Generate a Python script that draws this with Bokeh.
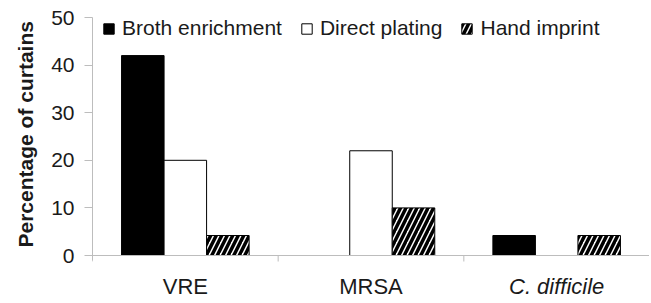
from bokeh.plotting import figure
from bokeh.models import ColumnDataSource, FixedTicker, Range1d, Span, Title
from bokeh.core.properties import value
from bokeh.embed import file_html
from bokeh.resources import INLINE

categories = ["VRE", "MRSA", "C. difficile"]
broth_enrichment = [42, 0, 4.2]
direct_plating = [20, 22, 0]
hand_imprint = [4.2, 10, 4.2]
series_names = ["Broth enrichment", "Direct plating", "Hand imprint"]
y_ticks = [0, 10, 20, 30, 40, 50]
y_title = "Percentage of curtains"

FONT = "Liberation Sans"
TEXT_COLOR = "#1a1a1a"
AXIS_GRAY = "#bdbdbd"
BAR_W = 0.229
italic_cats = {"C. difficile"}

# layout: y=50 at 17px, y=0 at 255px from top; canvas 303 tall
PX_PER_UNIT = (255 - 17) / 50.0
Y_BOTTOM = -(303 - 255) / PX_PER_UNIT

p = figure(width=649, height=303, output_backend="svg", toolbar_location=None,
           x_range=Range1d(0, 3), y_range=Range1d(Y_BOTTOM, 50),
           x_axis_location=None,
           min_border_left=91, min_border_top=17, min_border_bottom=0, min_border_right=0)
p.outline_line_color = None
p.xgrid.grid_line_color = None
p.ygrid.grid_line_color = None

series = [broth_enrichment, direct_plating, hand_imprint]
offsets = [-BAR_W, 0, BAR_W]
styles = [
    dict(fill_color="black", line_color="black"),
    dict(fill_color="white", line_color="black"),
    dict(fill_color="white", line_color="black", hatch_pattern="/", hatch_color="black",
         hatch_scale=11, hatch_weight=3.5),
]

# x axis baseline and category boundary ticks
p.add_layout(Span(location=0, dimension="width", line_color=AXIS_GRAY, line_width=1))
bounds = list(range(len(categories) + 1))
p.segment(x0=bounds, y0=[0] * len(bounds), x1=bounds,
          y1=[-6 / PX_PER_UNIT] * len(bounds), line_color=AXIS_GRAY, line_width=1)

for name, vals, off, st in zip(series_names, series, offsets, styles):
    xs = [i + 0.5 + off for i, v in enumerate(vals) if v > 0]
    tops = [v for v in vals if v > 0]
    src = ColumnDataSource(dict(x=xs, top=tops))
    p.vbar(x="x", top="top", bottom=0, width=BAR_W, source=src, line_width=1,
           legend_label=name, **st)

# category labels
lab_src = ColumnDataSource(dict(
    x=[i + 0.5 for i in range(len(categories))],
    y=[-31 / PX_PER_UNIT] * len(categories),
    text=categories,
    style=["italic" if c in italic_cats else "normal" for c in categories],
))
p.text(x="x", y="y", text="text", source=lab_src, text_align="center",
       text_baseline="middle", text_font=value(FONT), text_font_size=value("22px"),
       text_font_style="style", text_color=TEXT_COLOR)

# y axis
p.yaxis.ticker = FixedTicker(ticks=y_ticks)
p.yaxis.bounds = (-5 / PX_PER_UNIT, 50)
p.yaxis.axis_line_color = AXIS_GRAY
p.yaxis.major_tick_line_color = AXIS_GRAY
p.yaxis.major_tick_in = 0
p.yaxis.major_tick_out = 8
p.yaxis.minor_tick_line_color = None
p.yaxis.major_label_standoff = 10
p.yaxis.major_label_text_font = FONT
p.yaxis.major_label_text_font_size = "21px"
p.yaxis.major_label_text_color = TEXT_COLOR

# y title as a left-side Title so it can be centred on the 0-50 span
p.add_layout(Title(text=y_title, align="left", offset=56, standoff=23,
                   text_font=FONT, text_font_size="21px", text_font_style="bold",
                   text_color=TEXT_COLOR), "left")

lg = p.legend[0]
lg.orientation = "horizontal"
lg.location = (10, 263)
lg.margin = 0
lg.padding = 0
lg.spacing = 18
lg.glyph_width = 13
lg.glyph_height = 13
lg.label_standoff = 7
lg.label_text_font = FONT
lg.label_text_font_size = "21px"
lg.label_text_color = TEXT_COLOR
lg.border_line_color = None
lg.background_fill_alpha = 0

open("out.html", "w").write(file_html(p, INLINE))
